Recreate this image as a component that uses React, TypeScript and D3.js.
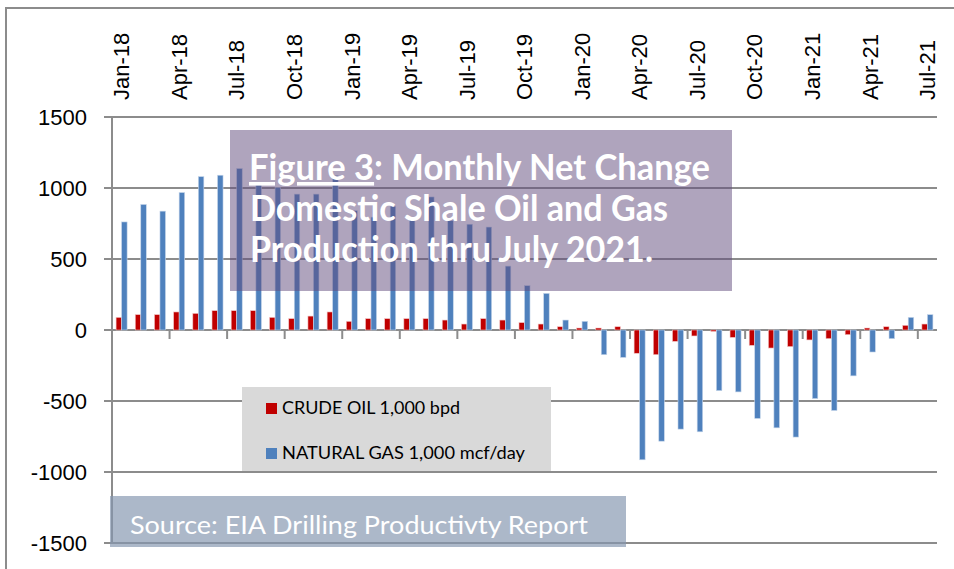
import React from "react";
import * as d3 from "d3";

const months = [
  "Jan-18", "Feb-18", "Mar-18", "Apr-18", "May-18", "Jun-18", "Jul-18", "Aug-18", "Sep-18", "Oct-18", "Nov-18", "Dec-18",
  "Jan-19", "Feb-19", "Mar-19", "Apr-19", "May-19", "Jun-19", "Jul-19", "Aug-19", "Sep-19", "Oct-19", "Nov-19", "Dec-19",
  "Jan-20", "Feb-20", "Mar-20", "Apr-20", "May-20", "Jun-20", "Jul-20", "Aug-20", "Sep-20", "Oct-20", "Nov-20", "Dec-20",
  "Jan-21", "Feb-21", "Mar-21", "Apr-21", "May-21", "Jun-21", "Jul-21",
];

// crude oil, 1,000 bpd
const oil = [
  89, 108, 108, 127, 117, 136, 136, 136, 89, 80, 98, 127,
  61, 80, 80, 80, 80, 70, 42, 80, 70, 52, 42, 23,
  14, 14, 23, -164, -174, -80, -42, -10, -52, -108, -127, -117,
  -70, -61, -33, 14, 23, 33, 42,
];

// natural gas, 1,000 mcf/day
const gas = [
  761, 884, 837, 968, 1080, 1090, 1137, 1040, 1004, 957, 957, 1088,
  840, 795, 870, 790, 937, 770, 745, 725, 450, 312, 258, 70,
  61, -174, -193, -914, -783, -698, -717, -427, -436, -623, -689, -754,
  -483, -567, -323, -155, -61, 89, 108,
];

const yTicks = [1500, 1000, 500, 0, -500, -1000, -1500];
const seriesNames = ["CRUDE OIL 1,000 bpd", "NATURAL GAS 1,000 mcf/day"];
const seriesColors = ["#C00000", "#4F81BD"];

const titleLines = ["Domestic Shale Oil and Gas", "Production thru July 2021."];
const sourceText = "Source: EIA Drilling Productivty Report";

const W = 954;
const H = 569;
const left = 112;
const right = 937;
const top = 117;
const bottom = 543;

export default function App() {
  const x = d3.scaleBand<string>().domain(months).range([left, right]).padding(0);
  const inner = d3
    .scaleBand<number>()
    .domain([0, 1])
    .range([0, x.bandwidth()])
    .paddingInner(0)
    .paddingOuter(0.74);
  const y = d3.scaleLinear().domain([-1500, 1500]).range([bottom, top]);

  const series = [oil, gas];
  const grid = "#8c8c8c";
  const axisFont = "'Liberation Sans', Arial, sans-serif";
  const boxFont = "Lato, 'Open Sans', sans-serif";

  return (
    <svg width={W} height={H} style={{ position: "absolute", left: 0, top: 0, background: "#fff" }}>
      {/* outer chart frame */}
      <rect x={6} y={8} width={1000} height={700} fill="none" stroke={grid} strokeWidth={2} />

      {/* gridlines */}
      {yTicks.map((t) => (
        <line key={"g" + t} x1={left} x2={right} y1={y(t)} y2={y(t)} stroke={grid} strokeWidth={2} />
      ))}
      {/* y axis */}
      <line x1={left} x2={left} y1={top} y2={bottom} stroke={grid} strokeWidth={2} />
      {yTicks.map((t) => (
        <g key={"yt" + t}>
          <line x1={left - 8} x2={left} y1={y(t)} y2={y(t)} stroke={grid} strokeWidth={2} />
          <text
            x={87}
            y={y(t)}
            dy="0.35em"
            textAnchor="end"
            fontFamily={axisFont}
            fontSize={22}
            fill="#000"
          >
            {t}
          </text>
        </g>
      ))}

      {/* category ticks on zero line */}
      {months.map((m, i) =>
        i % 3 === 0 && i > 0 ? (
          <line
            key={"xt" + m}
            x1={x(m)!}
            x2={x(m)!}
            y1={y(0)}
            y2={y(0) + 9}
            stroke={grid}
            strokeWidth={2}
          />
        ) : null
      )}

      {/* bars */}
      {series.map((vals, s) =>
        vals.map((v, i) => {
          const m = months[i];
          const bx = x(m)! + inner(s)!;
          return (
            <rect
              key={s + "-" + m}
              x={bx}
              y={Math.min(y(v), y(0))}
              width={inner.bandwidth()}
              height={Math.abs(y(v) - y(0))}
              fill={seriesColors[s]}
              stroke={s === 0 ? "#f2c4c4" : "#c6d6ea"}
              strokeWidth={0.6}
            />
          );
        })
      )}

      {/* x labels on top, rotated */}
      {months.map((m, i) =>
        i % 3 === 0 ? (
          <text
            key={"xl" + m}
            transform={`translate(${x(m)! + x.bandwidth() / 2},${100}) rotate(-90)`}
            dy="0.35em"
            textAnchor="start"
            fontFamily={axisFont}
            fontSize={22}
            fill="#000"
          >
            {m}
          </text>
        ) : null
      )}

      {/* title box */}
      <rect x={230} y={130} width={502} height={161} fill="#604A7B" fillOpacity={0.5} />
      <text x={249} y={180} fontFamily={boxFont} fontWeight="bold" fontSize={36} fill="#fff" textLength={461} lengthAdjust="spacingAndGlyphs">
        <tspan textDecoration="underline">Figure 3</tspan>
        <tspan>: Monthly Net Change</tspan>
      </text>
      <text x={250} y={221} fontFamily={boxFont} fontWeight="bold" fontSize={36} fill="#fff" textLength={418} lengthAdjust="spacingAndGlyphs">
        {titleLines[0]}
      </text>
      <text x={250} y={262} fontFamily={boxFont} fontWeight="bold" fontSize={36} fill="#fff" textLength={403} lengthAdjust="spacingAndGlyphs">
        {titleLines[1]}
      </text>

      {/* legend */}
      <rect x={242} y={387} width={309} height={84} fill="#D9D9D9" />
      {seriesNames.map((n, s) => (
        <g key={"lg" + s}>
          <rect x={266} y={403 + s * 45} width={11} height={11} fill={seriesColors[s]} />
          <text
            x={282}
            y={414 + s * 45}
            fontFamily={boxFont}
            fontSize={17}
            fill="#000"
            textLength={s === 0 ? 178 : 243}
            lengthAdjust="spacingAndGlyphs"
          >
            {n}
          </text>
        </g>
      ))}

      {/* source box */}
      <rect x={110} y={496} width={516} height={51} fill="#8497B0" fillOpacity={0.68} />
      <text x={130} y={534} fontFamily={boxFont} fontSize={25} fill="#fff" textLength={458} lengthAdjust="spacingAndGlyphs">
        {sourceText}
      </text>
    </svg>
  );
}
